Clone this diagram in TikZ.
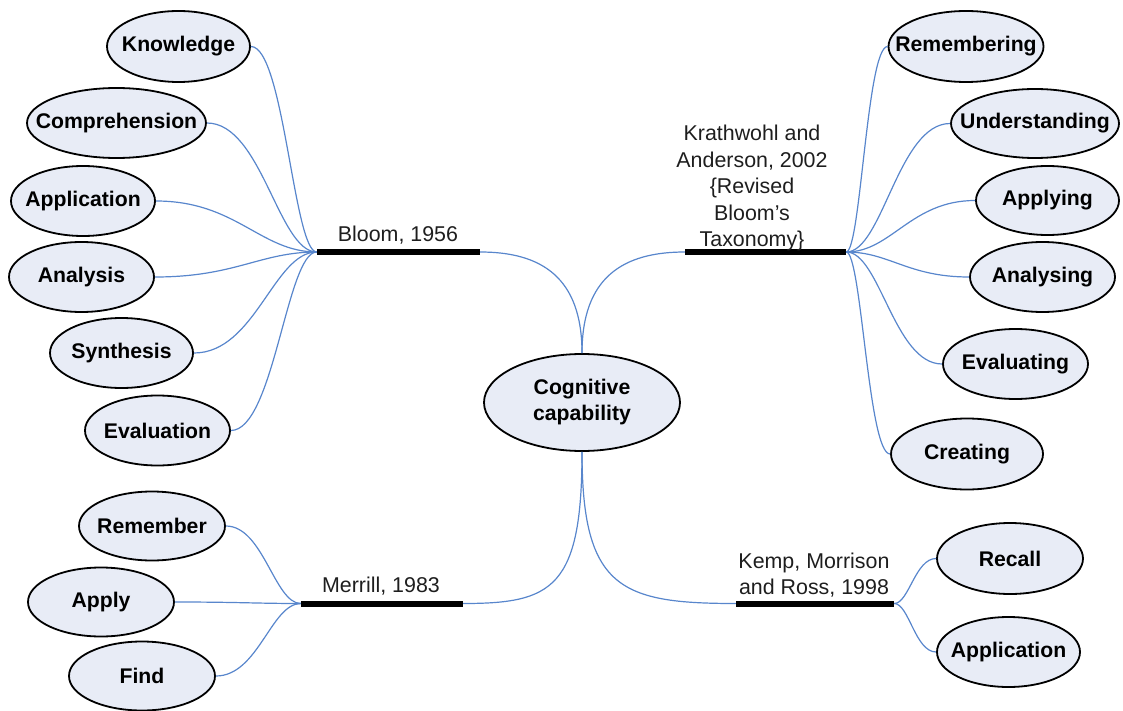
\documentclass[tikz,border=0pt]{standalone}
\usepackage{fontspec}
\setmainfont{Liberation Sans}
\usetikzlibrary{shapes.geometric,calc}
\definecolor{bubblefill}{RGB}{232,236,246}
\definecolor{linkblue}{RGB}{88,134,204}
\definecolor{labelgray}{RGB}{30,30,30}
% leaf text that does not widen its ellipse
\newcommand{\bub}[1]{\makebox[0pt]{#1}}
\begin{document}
\begin{tikzpicture}[x=1pt,y=-1pt,
  bubble/.style={ellipse,draw=black,line width=1.8pt,fill=bubblefill,
    inner sep=0pt,font=\fontsize{21.2}{25}\selectfont\bfseries,text=black},
  bar/.style={rectangle,fill=black,inner sep=0pt,minimum height=6pt},
  tag/.style={font=\fontsize{21.4}{26.5}\selectfont,text=labelgray,align=center,inner sep=0pt},
  conn/.style={draw=linkblue,line width=1.2pt},
  branch/.style={to path={.. controls ($(\tikztostart)!0.35!(\tikztostart -| \tikztotarget)$)
      and ($(\tikztotarget)!0.5!(\tikztotarget -| \tikztostart)$) .. (\tikztotarget)}},
  trunk/.style 2 args={to path={.. controls ($(\tikztostart)!#1!(\tikztostart |- \tikztotarget)$)
      and ($(\tikztotarget)!#2!(\tikztotarget -| \tikztostart)$) .. (\tikztotarget)}}]
\useasboundingbox (0,0) rectangle (1123,711);

% central topic
\node[bubble,minimum width=196pt,minimum height=97pt,align=center,
  font=\fontsize{21.2}{26}\selectfont\bfseries] (core) at (582,402.5) {Cognitive\\capability};

% branch bars and their captions
\node[bar,minimum width=163pt] (bloom) at (398.5,252) {};
\node[tag] (bloomtxt) at (398,235) {Bloom, 1956};
\node[bar,minimum width=161pt] (kraths) at (765.5,252) {};
\node[tag] (krathtxt) at (752,188) {Krathwohl and\\Anderson, 2002\\\{Revised\\Bloom’s\\Taxonomy\}};
\node[bar,minimum width=162pt] (merrill) at (382,603.5) {};
\node[tag] (merrilltxt) at (381,586) {Merrill, 1983};
\node[bar,minimum width=158pt] (kemp) at (815,603.5) {};
\node[tag] (kemptxt) at (814,575) {Kemp, Morrison\\and Ross, 1998};

% Bloom, 1956
\node[bubble,minimum width=143pt,minimum height=71pt] (knowledge) at (178.5,46.5) {\bub{Knowledge}};
\node[bubble,minimum width=179pt,minimum height=70pt] (comprehension) at (116.5,123) {\bub{Comprehension}};
\node[bubble,minimum width=144pt,minimum height=70pt] (applicationL) at (83,201) {\bub{Application}};
\node[bubble,minimum width=145pt,minimum height=70pt] (analysis) at (81.5,277) {\bub{Analysis}};
\node[bubble,minimum width=143pt,minimum height=70pt] (synthesis) at (121.5,353) {\bub{Synthesis}};
\node[bubble,minimum width=145pt,minimum height=70pt] (evaluation) at (157.5,430.5) {\bub{Evaluation}};

% Krathwohl and Anderson, 2002
\node[bubble,minimum width=155pt,minimum height=71pt] (remembering) at (966,46.5) {\bub{Remembering}};
\node[bubble,minimum width=168pt,minimum height=69pt] (understanding) at (1035,123.5) {\bub{Understanding}};
\node[bubble,minimum width=143pt,minimum height=69pt] (applying) at (1047.5,200.5) {\bub{Applying}};
\node[bubble,minimum width=145pt,minimum height=70pt] (analysing) at (1042.5,277) {\bub{Analysing}};
\node[bubble,minimum width=145pt,minimum height=70pt] (evaluating) at (1015.5,364) {\bub{Evaluating}};
\node[bubble,minimum width=152pt,minimum height=71pt] (creating) at (967,454) {\bub{Creating}};

% Merrill, 1983
\node[bubble,minimum width=146pt,minimum height=69pt] (remember) at (152,526) {\bub{Remember}};
\node[bubble,minimum width=146pt,minimum height=69pt] (apply) at (101,602) {\bub{Apply}};
\node[bubble,minimum width=146pt,minimum height=69pt] (find) at (142,676) {\bub{Find}};

% Kemp, Morrison and Ross, 1998
\node[bubble,minimum width=146pt,minimum height=71pt] (recall) at (1010,558.5) {\bub{Recall}};
\node[bubble,minimum width=143pt,minimum height=70pt] (applicationR) at (1008.5,652) {\bub{Application}};

% trunks from the central topic
\draw[conn] (core.north) to[trunk={0.75}{0.6}] (bloom.east);
\draw[conn] (core.north) to[trunk={0.75}{0.6}] (kraths.west);
\draw[conn] (core.south) to[trunk={0.9}{0.75}] (merrill.east);
\draw[conn] (core.south) to[trunk={0.9}{0.75}] (kemp.west);

% leaves
\foreach \leaf in {knowledge,comprehension,applicationL,analysis,synthesis,evaluation}
  \draw[conn] (bloom.west) to[branch] (\leaf.east);
\foreach \leaf in {remembering,understanding,applying,analysing,evaluating,creating}
  \draw[conn] (kraths.east) to[branch] (\leaf.west);
\foreach \leaf in {remember,apply,find}
  \draw[conn] (merrill.west) to[branch] (\leaf.east);
\foreach \leaf in {recall,applicationR}
  \draw[conn] (kemp.east) to[branch] (\leaf.west);
\end{tikzpicture}
\end{document}
